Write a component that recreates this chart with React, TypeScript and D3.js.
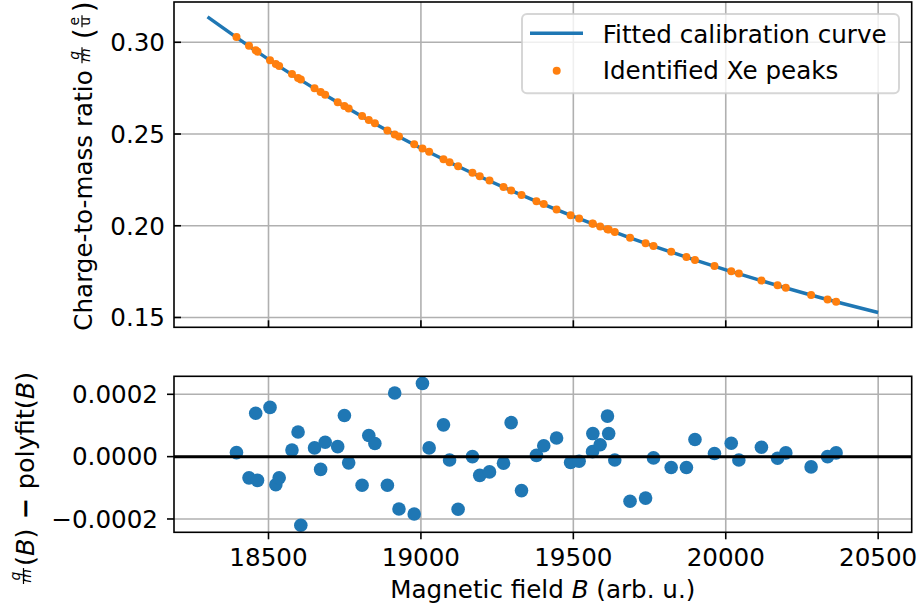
import React from 'react';
import * as d3 from 'd3';

// fitted calibration curve, sampled along B
const curveB = [18300, 18500, 18700, 18900, 19100, 19300, 19500, 19700, 19900, 20100, 20300, 20500];
const curveQm = [0.3139, 0.2907, 0.2699, 0.2510, 0.2341, 0.2189, 0.2051, 0.1926, 0.1813, 0.1709, 0.1613, 0.1527];

// identified Xe peaks
const peakB = [18395, 18436, 18458, 18464, 18505, 18524, 18535, 18577, 18597, 18606,
  18651, 18671, 18686, 18727, 18749, 18763, 18807, 18829, 18849, 18890,
  18914, 18928, 18978, 19005, 19027, 19074, 19094, 19122, 19169, 19193,
  19225, 19271, 19296, 19330, 19379, 19403, 19445, 19491, 19519, 19563,
  19564, 19588, 19612, 19616, 19636, 19686, 19737, 19763, 19821, 19871,
  19899, 19963, 20018, 20043, 20117, 20170, 20197, 20280, 20334, 20362];
const peakQm = [0.3029, 0.2981, 0.2956, 0.2949, 0.2902, 0.2882, 0.2871, 0.2827, 0.2806, 0.2797,
  0.2750, 0.2729, 0.2714, 0.2673, 0.2653, 0.2639, 0.2598, 0.2577, 0.2558, 0.2519,
  0.2498, 0.2486, 0.2444, 0.2421, 0.2403, 0.2363, 0.2346, 0.2324, 0.2289, 0.2270,
  0.2246, 0.2211, 0.2192, 0.2168, 0.2134, 0.2118, 0.2089, 0.2057, 0.2039, 0.2012,
  0.2011, 0.1996, 0.1981, 0.1979, 0.1966, 0.1935, 0.1905, 0.1890, 0.1858, 0.1829,
  0.1813, 0.1780, 0.1752, 0.1739, 0.1701, 0.1675, 0.1662, 0.1623, 0.1598, 0.1586];
// residuals q/m(B) - polyfit(B)
const residual = [0.13e-4, -0.68e-4, 1.39e-4, -0.76e-4, 1.58e-4, -0.90e-4, -0.68e-4, 0.21e-4, 0.79e-4, -2.20e-4,
  0.28e-4, -0.41e-4, 0.46e-4, 0.32e-4, 1.32e-4, -0.20e-4, -0.92e-4, 0.68e-4, 0.42e-4, -0.92e-4,
  2.04e-4, -1.68e-4, -1.84e-4, 2.35e-4, 0.28e-4, 1.02e-4, -0.11e-4, -1.69e-4, 0.00e-4, -0.60e-4,
  -0.49e-4, -0.21e-4, 1.09e-4, -1.09e-4, 0.04e-4, 0.35e-4, 0.60e-4, -0.19e-4, -0.15e-4, 0.16e-4,
  0.74e-4, 0.38e-4, 1.30e-4, 0.74e-4, -0.11e-4, -1.43e-4, -1.33e-4, -0.04e-4, -0.35e-4, -0.35e-4,
  0.55e-4, 0.10e-4, 0.43e-4, -0.11e-4, 0.30e-4, -0.05e-4, 0.12e-4, -0.33e-4, 0.00e-4, 0.12e-4];

const xTicks = [18500, 19000, 19500, 20000, 20500];
const topYTicks = [0.15, 0.2, 0.25, 0.3];
const botYTicks = [-0.0002, 0, 0.0002];

const FONT = 'DejaVu Sans';
const FS = 24.6;
const C0 = '#1f77b4';
const C1 = '#ff7f0e';
const GRID = '#b0b0b0';

function padded(lo: number, hi: number) {
  const m = (hi - lo) * 0.05;
  return [lo - m, hi + m];
}

export default function App() {
  const left = 174, right = 911.7;
  const top1 = 2, bot1 = 327.3;
  const top2 = 376.3, bot2 = 532.3;

  const x = d3.scaleLinear().domain(padded(d3.min(curveB)!, d3.max(curveB)!)).range([left, right]);
  const yTop = d3.scaleLinear()
    .domain(padded(d3.min(curveQm)!, d3.max(curveQm)!))
    .range([bot1, top1]);
  const yBot = d3.scaleLinear()
    .domain(padded(d3.min(residual)!, d3.max(residual)!))
    .range([bot2, top2]);

  const line = d3.line<number>()
    .x((d, i) => x(curveB[i]))
    .y(d => yTop(d))
    .curve(d3.curveNatural);

  const fmt2 = d3.format('.2f');
  const fmt4 = (v: number) => d3.format('.4f')(v).replace('-', '\u2212');

  // top ylabel layout (local coords along the rotated baseline)
  const l0 = -166;
  const w0 = 10.585 * FS; // width of "Charge-to-mass ratio"
  const f1 = l0 + w0 + 15;
  const p1 = f1 + 16;

  return (
    <svg width={921} height={610} style={{ position: 'absolute', left: 0, top: 0 }} fontFamily={FONT}>
      {/* ---------- top axes ---------- */}
      <g>
        {xTicks.map(t => (
          <line key={'gx' + t} x1={x(t)} x2={x(t)} y1={top1} y2={bot1} stroke={GRID} strokeWidth={1.6} />
        ))}
        {topYTicks.map(t => (
          <line key={'gy' + t} x1={left} x2={right} y1={yTop(t)} y2={yTop(t)} stroke={GRID} strokeWidth={1.6} />
        ))}
        <path d={line(curveQm) || ''} fill="none" stroke={C0} strokeWidth={3.4} />
        {peakB.map((b, i) => (
          <circle key={'p' + i} cx={x(b)} cy={yTop(peakQm[i])} r={4} fill={C1} />
        ))}
        <rect x={left} y={top1} width={right - left} height={bot1 - top1} fill="none" stroke="#000" strokeWidth={1.6} />
        {xTicks.map(t => (
          <line key={'tx' + t} x1={x(t)} x2={x(t)} y1={bot1} y2={bot1 - 7} stroke="#000" strokeWidth={1.6} />
        ))}
        {topYTicks.map(t => (
          <g key={'ty' + t}>
            <line x1={left} x2={left + 7} y1={yTop(t)} y2={yTop(t)} stroke="#000" strokeWidth={1.6} />
            <text x={left - 9} y={yTop(t)} dy="0.36em" textAnchor="end" fontSize={FS}>{fmt2(t)}</text>
          </g>
        ))}

        {/* legend */}
        <rect x={522} y={14} width={377} height={79.3} rx={5} fill="#fff" fillOpacity={0.8}
          stroke="#cccccc" strokeOpacity={0.8} strokeWidth={2} />
        <line x1={530} x2={583} y1={33.3} y2={33.3} stroke={C0} strokeWidth={3.4} />
        <circle cx={556.7} cy={70.7} r={4} fill={C1} />
        <text x={602.7} y={42.7} fontSize={FS}>Fitted calibration curve</text>
        <text x={602.7} y={79.3} fontSize={FS}>Identified Xe peaks</text>

        {/* y label */}
        <g transform={`translate(92, ${(top1 + bot1) / 2}) rotate(-90)`} fontSize={FS}>
          <text x={l0} y={0}>Charge-to-mass ratio</text>
          <text x={f1} y={-13.5} fontSize={14} fontStyle="italic" textAnchor="middle">q</text>
          <line x1={f1 - 8} x2={f1 + 8} y1={-10} y2={-10} stroke="#000" strokeWidth={1.2} />
          <text x={f1} y={-2.5} fontSize={14} fontStyle="italic" textAnchor="middle">m</text>
          <text x={p1} y={2} fontSize={28}>(</text>
          <text x={p1 + 18} y={-13.5} fontSize={14} textAnchor="middle">e</text>
          <line x1={p1 + 12} x2={p1 + 24} y1={-10} y2={-10} stroke="#000" strokeWidth={1.2} />
          <text x={p1 + 18} y={-2.5} fontSize={14} textAnchor="middle">u</text>
          <text x={p1 + 27} y={2} fontSize={28}>)</text>
        </g>
      </g>

      {/* ---------- bottom axes ---------- */}
      <g>
        {xTicks.map(t => (
          <line key={'bgx' + t} x1={x(t)} x2={x(t)} y1={top2} y2={bot2} stroke={GRID} strokeWidth={1.6} />
        ))}
        {botYTicks.map(t => (
          <line key={'bgy' + t} x1={left} x2={right} y1={yBot(t)} y2={yBot(t)} stroke={GRID} strokeWidth={1.6} />
        ))}
        {peakB.map((b, i) => (
          <circle key={'r' + i} cx={x(b)} cy={yBot(residual[i])} r={6.8} fill={C0} />
        ))}
        <line x1={left} x2={right} y1={yBot(0)} y2={yBot(0)} stroke="#000" strokeWidth={3} />
        <rect x={left} y={top2} width={right - left} height={bot2 - top2} fill="none" stroke="#000" strokeWidth={1.6} />
        {xTicks.map(t => (
          <g key={'btx' + t}>
            <line x1={x(t)} x2={x(t)} y1={bot2} y2={bot2 + 7} stroke="#000" strokeWidth={1.6} />
            <text x={x(t)} y={566} textAnchor="middle" fontSize={FS}>{t}</text>
          </g>
        ))}
        {botYTicks.map(t => (
          <g key={'bty' + t}>
            <line x1={left} x2={left - 7} y1={yBot(t)} y2={yBot(t)} stroke="#000" strokeWidth={1.6} />
            <text x={left - 16} y={yBot(t)} dy="0.36em" textAnchor="end" fontSize={FS}>{fmt4(t)}</text>
          </g>
        ))}

        {/* y label */}
        <g transform={`translate(33.5, 466) rotate(-90)`} fontSize={25.5}>
          <text x={-110} y={-13.5} fontSize={14} fontStyle="italic" textAnchor="middle">q</text>
          <line x1={-118} x2={-102} y1={-10} y2={-10} stroke="#000" strokeWidth={1.2} />
          <text x={-110} y={-2.5} fontSize={14} fontStyle="italic" textAnchor="middle">m</text>
          <text x={-100} y={0}>
            <tspan>(</tspan>
            <tspan fontStyle="italic">B</tspan>
            <tspan>)</tspan>
            <tspan dx={9} fontWeight="bold">{'\u2212'}</tspan>
            <tspan dx={9}>polyfit(</tspan>
            <tspan fontStyle="italic">B</tspan>
            <tspan>)</tspan>
          </text>
        </g>

        {/* x label */}
        <text x={(left + right) / 2} y={598} textAnchor="middle" fontSize={FS}>
          Magnetic field <tspan fontStyle="italic">B</tspan> (arb. u.)
        </text>
      </g>
    </svg>
  );
}
